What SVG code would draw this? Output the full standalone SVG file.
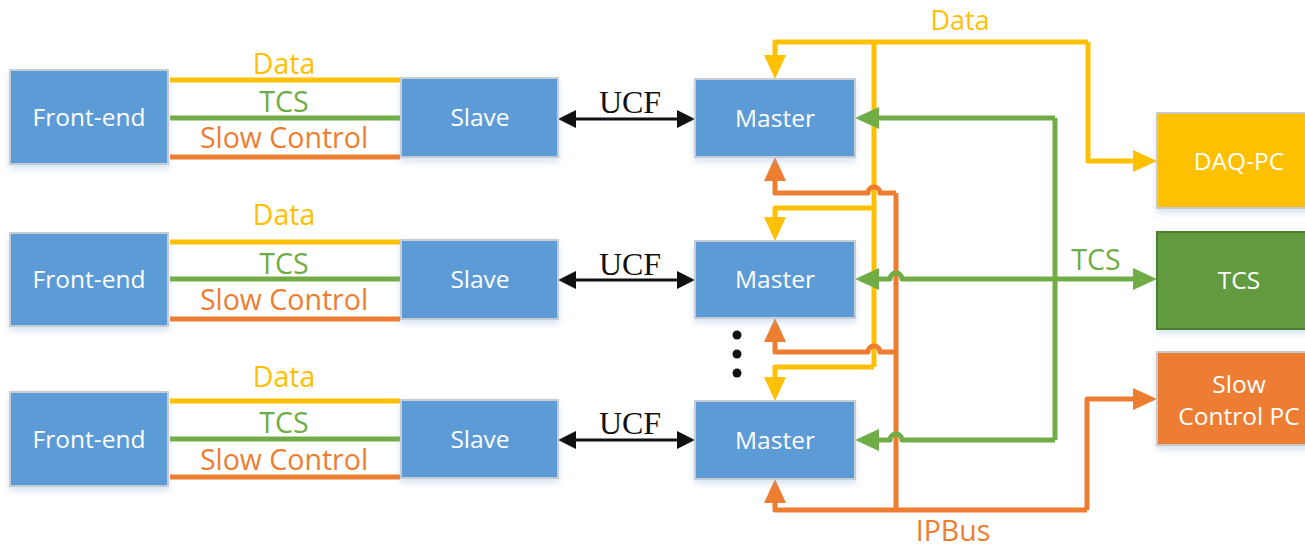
<svg xmlns="http://www.w3.org/2000/svg" width="1305" height="550" viewBox="0 0 1305 550">
  <defs>
    <filter id="shadow" x="-10%" y="-10%" width="120%" height="140%">
      <feDropShadow dx="0" dy="4" stdDeviation="3" flood-color="#8fb4d9" flood-opacity="0.35"/>
    </filter>
    <marker id="ahY" viewBox="0 0 24 22" markerWidth="24" markerHeight="22" refX="12" refY="11" orient="auto" markerUnits="userSpaceOnUse">
      <path d="M0,0 L24,11 L0,22 z" fill="#FFC000"/>
    </marker>
    <marker id="ahO" viewBox="0 0 24 22" markerWidth="24" markerHeight="22" refX="12" refY="11" orient="auto" markerUnits="userSpaceOnUse">
      <path d="M0,0 L24,11 L0,22 z" fill="#ED7D31"/>
    </marker>
    <marker id="ahG" viewBox="0 0 24 22" markerWidth="24" markerHeight="22" refX="12" refY="11" orient="auto" markerUnits="userSpaceOnUse">
      <path d="M0,0 L24,11 L0,22 z" fill="#70AD47"/>
    </marker>
    <marker id="ahK" viewBox="0 0 18 18" markerWidth="18" markerHeight="18" refX="10" refY="9" orient="auto-start-reverse" markerUnits="userSpaceOnUse">
      <path d="M0,0 L18,9 L0,18 z" fill="#111"/>
    </marker>
  </defs>
  <style>
    .box { fill: #5B9BD5; stroke: #C5CCD4; stroke-width: 2; filter: url(#shadow); }
    .daq { fill: #FFC000; stroke: #C9C9C9; stroke-width: 2; filter: url(#shadow); }
    .tcs { fill: #639C41; stroke: #4F7E31; stroke-width: 2; filter: url(#shadow); }
    .scp { fill: #ED7D31; stroke: #C9C9C9; stroke-width: 2; filter: url(#shadow); }
    .bt { font-family: "Open Sans", "Liberation Sans", sans-serif; font-size: 24.5px; fill: #fff; text-anchor: middle; }
    .lbl { font-family: "Open Sans", "Liberation Sans", sans-serif; font-size: 28.5px; text-anchor: middle; }
    .ucf { font-family: "Liberation Serif", serif; font-size: 32px; fill: #111; text-anchor: middle; }
    .y { stroke: #FFC000; }
    .o { stroke: #ED7D31; }
    .g { stroke: #70AD47; }
    .w { fill: none; stroke-width: 5; stroke-linejoin: round; }
    .k { fill: none; stroke: #111; stroke-width: 3; }
    .ty { fill: #FFC000; }
    .to { fill: #ED7D31; }
    .tg { fill: #70AD47; }
  </style>

  <!-- Front-end to Slave bundles -->
  <g id="links-left">
    <path class="w y" d="M170,80 H400 M170,242 H400 M170,401 H400"/>
    <path class="w g" d="M170,118 H400 M170,279 H400 M170,439 H400"/>
    <path class="w o" d="M170,157 H400 M170,319 H400 M170,477 H400"/>
    <text class="lbl ty" x="284" y="74">Data</text>
    <text class="lbl tg" x="284" y="112">TCS</text>
    <text class="lbl to" x="284" y="148">Slow Control</text>
    <text class="lbl ty" x="284" y="225">Data</text>
    <text class="lbl tg" x="284" y="274">TCS</text>
    <text class="lbl to" x="284" y="310">Slow Control</text>
    <text class="lbl ty" x="284" y="387">Data</text>
    <text class="lbl tg" x="284" y="433">TCS</text>
    <text class="lbl to" x="284" y="470">Slow Control</text>
  </g>

  <!-- UCF links between Slave and Master -->
  <g id="links-ucf">
    <path class="k" d="M566,119 H687" marker-start="url(#ahK)" marker-end="url(#ahK)"/>
    <path class="k" d="M566,280 H687" marker-start="url(#ahK)" marker-end="url(#ahK)"/>
    <path class="k" d="M566,440 H687" marker-start="url(#ahK)" marker-end="url(#ahK)"/>
    <text class="ucf" x="630" y="113">UCF</text>
    <text class="ucf" x="630" y="275">UCF</text>
    <text class="ucf" x="630" y="434">UCF</text>
  </g>

  <!-- Data, IPBus and TCS distribution -->
  <g id="connectors">
    <!-- Data -->
    <path class="w y" d="M1088,42 H775 V67" marker-end="url(#ahY)"/>
    <path class="w y" d="M1088,42 V161 H1145" marker-end="url(#ahY)"/>
    <path class="w y" d="M874,42 V367"/>
    <path class="w y" d="M874,208 H775 V229" marker-end="url(#ahY)"/>
    <path class="w y" d="M874,367 H775 V389" marker-end="url(#ahY)"/>
    <!-- IPBus -->
    <path class="w o" d="M896,193 V510"/>
    <path class="w o" d="M896,193 H880 A6,6 0 0 0 868,193 H775 V169" marker-end="url(#ahO)"/>
    <path class="w o" d="M896,352 H880 A6,6 0 0 0 868,352 H775 V330" marker-end="url(#ahO)"/>
    <path class="w o" d="M1087,510 H775 V491" marker-end="url(#ahO)"/>
    <path class="w o" d="M1087,510 V399 H1145" marker-end="url(#ahO)"/>
    <!-- TCS -->
    <path class="w g" d="M1055,118 V440"/>
    <path class="w g" d="M1055,118 H867" marker-end="url(#ahG)"/>
    <path class="w g" d="M1055,279 H902 A6,6 0 0 0 890,279 H867" marker-end="url(#ahG)"/>
    <path class="w g" d="M1055,279 H1145" marker-end="url(#ahG)"/>
    <path class="w g" d="M1055,440 H902 A6,6 0 0 0 890,440 H867" marker-end="url(#ahG)"/>
    <text class="lbl ty" x="960" y="30" style="font-size:27px">Data</text>
    <text class="lbl tg" x="1096" y="270">TCS</text>
    <text class="lbl to" x="953" y="541">IPBus</text>
    <circle cx="737" cy="335" r="4.5" fill="#111"/>
    <circle cx="737" cy="354" r="4.5" fill="#111"/>
    <circle cx="737" cy="373" r="4.5" fill="#111"/>
  </g>

  <!-- Row 1 -->
  <g id="frontend1"><rect class="box" x="10" y="70" width="158" height="94"/><text class="bt" x="89" y="126">Front-end</text></g>
  <g id="slave1"><rect class="box" x="401" y="78" width="157" height="79"/><text class="bt" x="480" y="126">Slave</text></g>
  <g id="master1"><rect class="box" x="695" y="79" width="160" height="78"/><text class="bt" x="775" y="127">Master</text></g>
  <!-- Row 2 -->
  <g id="frontend2"><rect class="box" x="10" y="233" width="158" height="93"/><text class="bt" x="89" y="288">Front-end</text></g>
  <g id="slave2"><rect class="box" x="401" y="240" width="157" height="79"/><text class="bt" x="480" y="288">Slave</text></g>
  <g id="master2"><rect class="box" x="695" y="241" width="160" height="77"/><text class="bt" x="775" y="288">Master</text></g>
  <!-- Row 3 -->
  <g id="frontend3"><rect class="box" x="10" y="392" width="158" height="94"/><text class="bt" x="89" y="448">Front-end</text></g>
  <g id="slave3"><rect class="box" x="401" y="400" width="157" height="78"/><text class="bt" x="480" y="448">Slave</text></g>
  <g id="master3"><rect class="box" x="695" y="401" width="160" height="78"/><text class="bt" x="775" y="449">Master</text></g>

  <!-- Back-end computers -->
  <g id="daq-pc"><rect class="daq" x="1157" y="113" width="164" height="95"/><text class="bt" x="1239" y="170">DAQ-PC</text></g>
  <g id="tcs"><rect class="tcs" x="1157" y="232" width="164" height="97"/><text class="bt" x="1239" y="289">TCS</text></g>
  <g id="slow-control-pc"><rect class="scp" x="1157" y="352" width="164" height="93"/><text class="bt" x="1239" y="393">Slow</text><text class="bt" x="1239" y="425">Control PC</text></g>
</svg>
